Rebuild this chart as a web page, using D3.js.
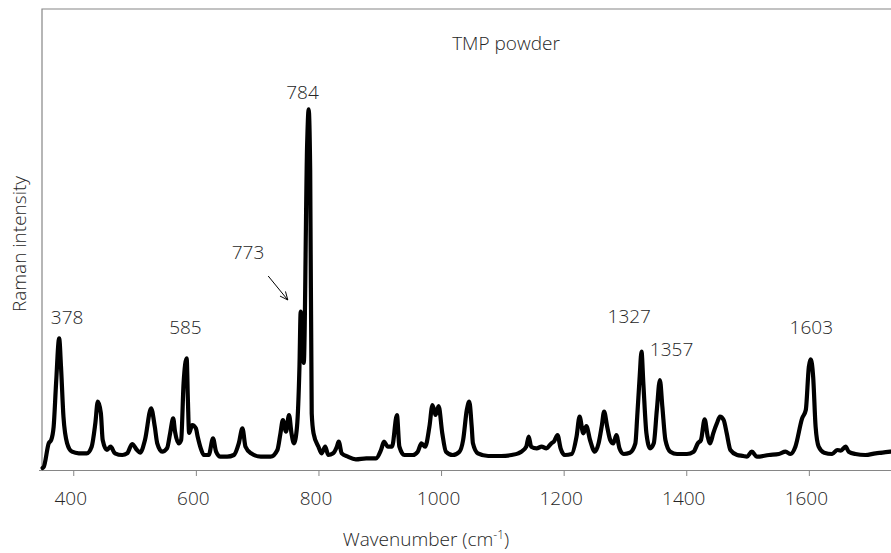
<!DOCTYPE html>
<html>
<head>
<meta charset="utf-8">
<script src="https://cdn.jsdelivr.net/npm/d3@7"></script>
<style>
  body { margin: 0; background: #fff; }
  text { font-family: "Open Sans", "Segoe UI", sans-serif; font-weight: 300; fill: #262626; }
</style>
</head>
<body>
<svg id="chart"></svg>
<script>
// Raman spectrum of TMP powder
let wavenumber = [350, 352, 360, 364, 368, 372, 377, 380, 384, 390, 398, 409, 422, 430, 436, 440, 445, 448, 455, 461, 468, 480, 488, 496, 504, 509, 517, 527, 533, 537, 545, 553, 558, 563, 566, 572, 576, 580, 585, 587, 589, 594, 600, 603, 608, 613, 621, 628, 633, 640, 651, 662, 670, 676, 681, 690, 706, 722, 733, 738, 742, 747, 752, 756, 760, 765, 769, 771, 776, 781.5, 784, 786.5, 789, 792, 800, 805, 811, 816, 824, 830, 833, 838, 848, 861, 878, 894, 902, 907, 913, 920, 928, 932, 940, 954, 962, 968, 974, 981, 986, 991, 996, 1002, 1008, 1019, 1030, 1036, 1042, 1046, 1050, 1052, 1060, 1077, 1098, 1115, 1126, 1131, 1139, 1143, 1147, 1156, 1164, 1172, 1180, 1184, 1190, 1195, 1202, 1213, 1221, 1226, 1232, 1237, 1243, 1251, 1257, 1262, 1266, 1271, 1276, 1281, 1286, 1291, 1298, 1308, 1317, 1320, 1324, 1327, 1330, 1335, 1341, 1347, 1352, 1357, 1361, 1366, 1374, 1385, 1401, 1412, 1419, 1424, 1430, 1435, 1439, 1444, 1450, 1455, 1461, 1466, 1472, 1483, 1493, 1499, 1507, 1515, 1535, 1551, 1562, 1570, 1578, 1589, 1595, 1600, 1603, 1607, 1611, 1616, 1625, 1638, 1646, 1652, 1660, 1665, 1676, 1692, 1709, 1720, 1733]
let intensity = [20, 33, 267, 300, 433, 870, 1317, 1033, 533, 267, 183, 167, 167, 233, 467, 683, 570, 300, 200, 233, 167, 150, 167, 260, 200, 173, 300, 617, 433, 267, 183, 217, 367, 517, 383, 267, 300, 870, 1117, 700, 370, 450, 417, 333, 217, 150, 150, 317, 183, 133, 133, 150, 267, 417, 233, 167, 133, 133, 200, 367, 500, 383, 550, 367, 267, 433, 1033, 1583, 1070, 3250, 3607, 3000, 567, 367, 233, 167, 233, 150, 167, 233, 283, 167, 133, 107, 117, 117, 200, 283, 233, 233, 550, 233, 150, 150, 183, 267, 233, 433, 650, 550, 640, 367, 183, 150, 183, 300, 600, 683, 433, 267, 167, 140, 140, 150, 167, 183, 233, 333, 233, 217, 233, 217, 267, 283, 350, 217, 150, 160, 333, 533, 367, 440, 300, 183, 267, 433, 583, 433, 300, 267, 350, 217, 160, 173, 267, 533, 933, 1183, 867, 367, 217, 267, 600, 900, 633, 300, 183, 160, 160, 183, 267, 300, 507, 333, 267, 367, 467, 533, 500, 367, 200, 150, 140, 133, 183, 133, 150, 160, 183, 160, 233, 517, 600, 1033, 1107, 933, 433, 233, 173, 160, 200, 193, 233, 183, 160, 150, 167, 173, 183]

let xTicks = [400, 600, 800, 1000, 1200, 1400, 1600]

// peak labels
let peakLabels = ['378', '585', '773', '784', '1327', '1357', '1603']
let peakX = [390, 583, 685, 774, 1307, 1376, 1604]
let peakY = [1460, 1357, 2110, 3710, 1467, 1140, 1357]

let width = 891
let height = 553
let padLeft = 42
let padTop = 9
let padBottom = 470

let svg = d3.select('#chart')
    .attr('width', width)
    .attr('height', height)

let xScale = d3.scaleLinear()
    .domain([349, 1734])
    .range([padLeft, width])

let yScale = d3.scaleLinear()
    .domain([0, 4610])
    .range([padBottom, padTop])

// plot frame (top and left edge, right edge runs off the picture)
svg.append('path')
    .attr('d', 'M' + (width + 5) + ',' + padTop + 'H' + padLeft + 'V' + padBottom)
    .attr('fill', 'none')
    .attr('stroke', '#868686')
    .attr('stroke-width', 1.2)

let xAxis = d3.axisBottom(xScale)
    .tickValues(xTicks)
    .tickFormat(d3.format('d'))
    .tickSize(6)
    .tickSizeOuter(0)

let gx = svg.append('g')
    .attr('transform', 'translate(0,' + padBottom + ')')
    .call(xAxis)

gx.select('.domain')
    .attr('d', 'M' + (padLeft - 3) + ',0.5H' + (width + 5))
    .attr('stroke', '#868686')
    .attr('stroke-width', 1.2)
gx.selectAll('.tick line').attr('stroke', '#868686')
gx.selectAll('.tick text')
    .attr('y', 22)
    .attr('dx', -3)
    .style('font-size', '19px')
    .style('font-family', '"Open Sans", sans-serif')
    .attr('fill', '#262626')

// the spectrum
let points = wavenumber.map((w, i) => [w, intensity[i]])

let line = d3.line()
    .x((d) => xScale(d[0]))
    .y((d) => yScale(d[1]))
    .curve(d3.curveMonotoneX)

svg.append('path')
    .datum(points)
    .attr('d', line)
    .attr('fill', 'none')
    .attr('stroke', '#000')
    .attr('stroke-width', 4.2)
    .attr('stroke-linejoin', 'round')
    .attr('stroke-linecap', 'round')

// peak annotations
svg.selectAll('.peak')
    .data(peakLabels)
    .enter()
    .append('text')
    .attr('class', 'peak')
    .attr('x', (d, i) => xScale(peakX[i]))
    .attr('y', (d, i) => yScale(peakY[i]))
    .attr('text-anchor', 'middle')
    .style('font-size', '19px')
    .text((d) => d)

// arrow to the 773 shoulder
svg.append('defs').append('marker')
    .attr('id', 'head')
    .attr('viewBox', '0 0 10 10')
    .attr('refX', 9)
    .attr('refY', 5)
    .attr('markerWidth', 9)
    .attr('markerHeight', 9)
    .attr('orient', 'auto')
    .append('path')
    .attr('d', 'M0,1L9,5L0,9')
    .attr('fill', 'none')
    .attr('stroke', '#000')
    .attr('stroke-width', 1)

svg.append('line')
    .attr('x1', xScale(718))
    .attr('y1', yScale(1940))
    .attr('x2', xScale(750))
    .attr('y2', yScale(1700))
    .attr('stroke', '#000')
    .attr('stroke-width', 1)
    .attr('marker-end', 'url(#head)')

// titles
svg.append('text')
    .attr('x', 506)
    .attr('y', 50)
    .attr('text-anchor', 'middle')
    .style('font-size', '19px')
    .text('TMP powder')

svg.append('text')
    .attr('transform', 'translate(26,244) rotate(-90)')
    .attr('text-anchor', 'middle')
    .style('font-size', '19px')
    .text('Raman intensity')

let xt = svg.append('text')
    .attr('x', 426)
    .attr('y', 546)
    .attr('text-anchor', 'middle')
    .style('font-size', '19px')
xt.append('tspan').text('Wavenumber (cm')
xt.append('tspan').attr('dy', -7).style('font-size', '12px').text('-1')
xt.append('tspan').attr('dy', 7).text(')')
</script>
</body>
</html>
